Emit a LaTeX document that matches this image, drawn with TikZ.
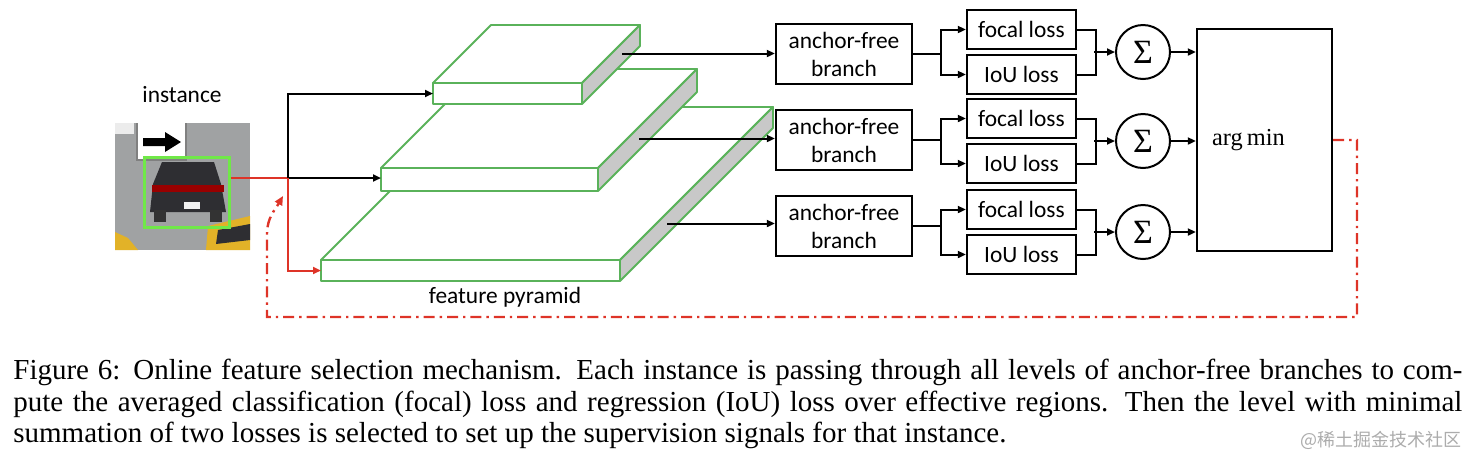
\documentclass[tikz,border=0pt]{standalone}
\usepackage{fontspec}
\setmainfont{Liberation Serif}
\newfontfamily\calibri{Carlito}
\newfontfamily\cjk{Noto Sans CJK SC}
\usetikzlibrary{arrows.meta,positioning}

\definecolor{slabgreen}{RGB}{90,178,90}
\definecolor{boxgreen}{RGB}{112,232,72}
\definecolor{linered}{RGB}{222,52,40}
\definecolor{sidegray}{RGB}{200,200,200}
\definecolor{roadgray}{RGB}{160,162,163}
\definecolor{cardark}{RGB}{46,46,50}
\definecolor{taxi}{RGB}{226,178,40}

\tikzset{
  txt/.style={font=\calibri\fontsize{11.7}{14}\selectfont},
  branchbox/.style={draw,line width=1.2pt,txt,align=center,minimum width=68pt,minimum height=30pt,inner sep=0pt},
  lossbox/.style={draw,line width=1.2pt,txt,minimum width=54.5pt,minimum height=19.5pt,inner sep=0pt},
  sumnode/.style={draw,circle,line width=1pt,minimum size=27pt,inner sep=0pt,font=\fontsize{17}{17}\selectfont},
  link/.style={line width=1pt},
  conn/.style={link,-{Triangle[length=4pt,width=3.5pt]}},
  slab/.style={draw=slabgreen,line width=0.9pt,line join=round},
  captxt/.style={anchor=base west,inner sep=0pt,font=\fontsize{14.5}{17}\selectfont},
}

\begin{document}
\begin{tikzpicture}[x=0.5pt,y=-0.5pt]
  \useasboundingbox (0,0) rectangle (1472,462);

  % instance picture
  \node[txt] (title) at (182,95) {instance};
  \fill[roadgray] (115,123) rectangle (250,250);
  \fill[white!85!gray] (115,123) rectangle (134,134);
  \fill[white] (137,123) rectangle (186,160);
  \draw[gray,line width=0.6pt] (137,123) -- (137,160) -- (186,160) -- (186,123);
  \fill[black] (143,138) -- (165,138) -- (165,132) -- (181,142) -- (165,152) -- (165,146) -- (143,146) -- cycle;
  \fill[cardark] (162,162) -- (214,162) -- (221,184) -- (226,212) -- (150,212) -- (153,184) -- cycle;
  \fill[black!80] (154,210) rectangle (166,222);
  \fill[black!80] (210,210) rectangle (222,222);
  \fill[red!60!black] (152,185) rectangle (224,192);
  \fill[white!90!gray] (184,202) rectangle (200,209);
  \fill[taxi] (208,226) -- (250,216) -- (250,250) -- (206,250) -- cycle;
  \fill[cardark] (218,230) -- (250,224) -- (250,240) -- (216,244) -- cycle;
  \fill[taxi] (115,232) -- (128,238) -- (138,250) -- (115,250) -- cycle;
  \node[draw=boxgreen,line width=1.5pt,minimum width=42.5pt,minimum height=35pt,inner sep=0pt] (inst) at (186.5,192) {};

  % feature pyramid, bottom level first
  \foreach \i/\xa/\xb/\yt/\h/\d/\s in {3/321/620/260/21/153/47, 2/381/598/168/23/99/41, 1/433/582/83/21/58/40} {
    \filldraw[slab,fill=white] (\xa,\yt) -- ++(\d,-\d) -- ++(\xb-\xa,0) -- (\xb,\yt) -- cycle;
    \node[slab,fill=white,minimum width={(\xb-\xa)*0.5pt},minimum height={\h*0.5pt},inner sep=0pt,outer sep=0pt,anchor=north west] (lvl\i) at (\xa,\yt) {};
    \filldraw[slab,fill=sidegray] (lvl\i.north east) -- ++(\d,-\d) -- ++(0,\h) -- (lvl\i.south east) -- cycle;
    \path (lvl\i.east) ++(\s,-\s) coordinate (src\i);
  }
  \node[txt] (fpn) at (505,297) {feature pyramid};

  % instance to levels
  \coordinate (split) at (288,178);
  \draw[link,linered] (inst.east |- split) -- (split);
  \draw[conn] (split) |- (lvl1.west);
  \draw[conn] (split) -- (split -| lvl2.west);
  \draw[conn,linered] (split) |- (lvl3.west);

  % heads and losses
  \node[draw,line width=1.2pt,minimum width=67.5pt,minimum height=111pt,text width=52.5pt,inner xsep=7.5pt,align=left,font=\fontsize{12.2}{14}\selectfont] (amin) at (1264.5,140) {arg\,min};
  \foreach \i/\yb/\yl in {1/54/52, 2/140/141, 3/226/232} {
    \node[branchbox] (br\i) at (844,\yb) {anchor-free\\branch};
    \node[lossbox] (fo\i) at (1021.5,\yl-22.5) {focal loss};
    \node[lossbox] (iou\i) at (1021.5,\yl+22.5) {IoU loss};
    \node[sumnode] (sum\i) at (1143,\yl) {Σ};
    \draw[conn] (src\i) -- (src\i -| br\i.west);
    \draw[link] (br\i.east) -- ++(28,0) coordinate (fk\i);
    \draw[conn] (fk\i) |- (fo\i.west);
    \draw[conn] (fk\i) |- (iou\i.west);
    \draw[link] (fo\i.east) -- ++(19,0) |- (iou\i.east);
    \draw[conn] ([xshift=-10.5pt]sum\i.west) -- (sum\i.west);
    \draw[conn] (sum\i.east) -- (sum\i.east -| amin.west);
  }

  % selection feedback
  \coordinate (back) at (283,196);
  \draw[linered,line width=1.2pt,dash pattern=on 5.5pt off 2.5pt on 1.2pt off 2.5pt,-{Triangle[length=4.5pt,width=4pt]}]
    (amin.east) -| (1357,317) -| (267,234) to[out=90,in=240] (back);

  % caption
  \node[captxt] (cap1) at (13,379.5)
    {\makebox[724.5pt][s]{Figure 6: Online feature selection mechanism. Each instance is passing through all levels of anchor-free branches to com-}};
  \node[captxt] (cap2) at (13,411)
    {\makebox[724.5pt][s]{pute the averaged classification (focal) loss and regression (IoU) loss over effective regions. Then the level with minimal}};
  \node[captxt] (cap3) at (13,442.5)
    {summation of two losses is selected to set up the supervision signals for that instance.};
  \node[anchor=east,inner sep=0pt,text=gray!65,font=\cjk\fontsize{9}{10}\selectfont] (mark) at (1462,440) {@稀土掘金技术社区};
\end{tikzpicture}
\end{document}
